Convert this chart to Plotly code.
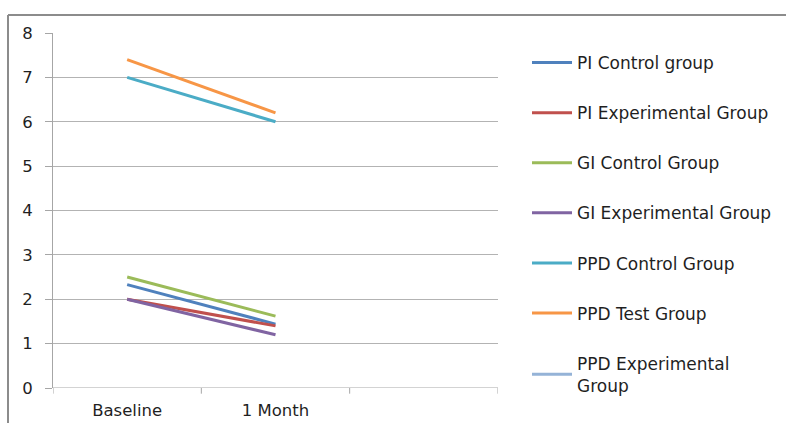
import plotly.graph_objects as go

# Periodontal indices at baseline and after one month
timepoints = ["Baseline", "1 Month"]
series_names = [
    "PI Control group",
    "PI Experimental Group",
    "GI Control Group",
    "GI Experimental Group",
    "PPD Control Group",
    "PPD Test Group",
    "PPD Experimental<br>Group",
]
pi_control = [2.33, 1.44]
pi_experimental = [2.0, 1.4]
gi_control = [2.5, 1.62]
gi_experimental = [2.0, 1.2]
ppd_control = [7.0, 6.0]
ppd_test = [7.4, 6.2]
ppd_experimental = [None, None]

series_values = [pi_control, pi_experimental, gi_control, gi_experimental,
                 ppd_control, ppd_test, ppd_experimental]
colors = ["#4F81BD", "#C0504D", "#9BBB59", "#8064A2", "#4BACC6", "#F79646", "#95B3D7"]

y_ticks = [0, 1, 2, 3, 4, 5, 6, 7, 8]

W, H = 786, 423
ml, mr, mt, mb = 53, 288, 33, 35
pw = W - ml - mr
ph = H - mt - mb


def px_x(p):
    return (p - ml) / pw


def px_y(p):
    return (H - mb - p) / ph


fig = go.Figure()
x_pos = list(range(len(timepoints)))
for i, (name, vals, col) in enumerate(zip(series_names, series_values, colors)):
    fig.add_trace(go.Scatter(
        x=x_pos, y=vals, name=name, mode="lines",
        line=dict(color=col, width=3),
        legendgroup=f"g{i}",
    ))

font_family = "'DejaVu Sans', sans-serif"
text_color = "#1f1f1f"

fig.update_layout(
    width=W, height=H,
    margin=dict(l=ml, r=mr, t=mt, b=mb, autoexpand=False),
    paper_bgcolor="white", plot_bgcolor="white",
    font=dict(family=font_family, size=15, color=text_color),
    showlegend=True,
    legend=dict(
        x=px_x(527), xanchor="left",
        y=px_y(45), yanchor="top",
        font=dict(size=17, color=text_color),
        tracegroupgap=25,
        bgcolor="rgba(0,0,0,0)",
        itemwidth=40,
        maxheight=2000,
    ),
    xaxis=dict(
        range=[-0.5, 2.5],
        tickmode="array",
        tickvals=x_pos,
        ticktext=timepoints,
        ticks="",
        showgrid=False,
        zeroline=False,
        showline=False,
        fixedrange=True,
        automargin=False,
        tickfont=dict(size=16.5),
        ticklabelstandoff=10,
    ),
    yaxis=dict(
        range=[0, 8],
        tickmode="array",
        tickvals=y_ticks,
        ticks="outside", ticklen=7, tickcolor="#a6a6a6",
        showgrid=True, gridcolor="#b3b3b3", gridwidth=1,
        zeroline=False,
        showline=True, linecolor="#a6a6a6", linewidth=1,
        automargin=False,
        tickfont=dict(size=16.5),
        ticklabelstandoff=9,
    ),
)

# category axis baseline with boundary ticks
fig.add_shape(type="line", xref="x", yref="y", x0=-0.5, x1=2.5, y0=0, y1=0,
              line=dict(color="#a6a6a6", width=1))
for b in [-0.5, 0.5, 1.5, 2.5]:
    fig.add_shape(type="line", xref="x", yref="paper", x0=b, x1=b, y0=0, y1=-0.016,
                  line=dict(color="#a6a6a6", width=1))

# chart frame (top and left edges)
fig.add_shape(type="line", xref="paper", yref="paper",
              x0=px_x(8), x1=px_x(W + 5), y0=px_y(15), y1=px_y(15),
              line=dict(color="#8c8c8c", width=2))
fig.add_shape(type="line", xref="paper", yref="paper",
              x0=px_x(8), x1=px_x(8), y0=px_y(15), y1=px_y(H + 5),
              line=dict(color="#8c8c8c", width=2))

fig.write_html("out.html")
